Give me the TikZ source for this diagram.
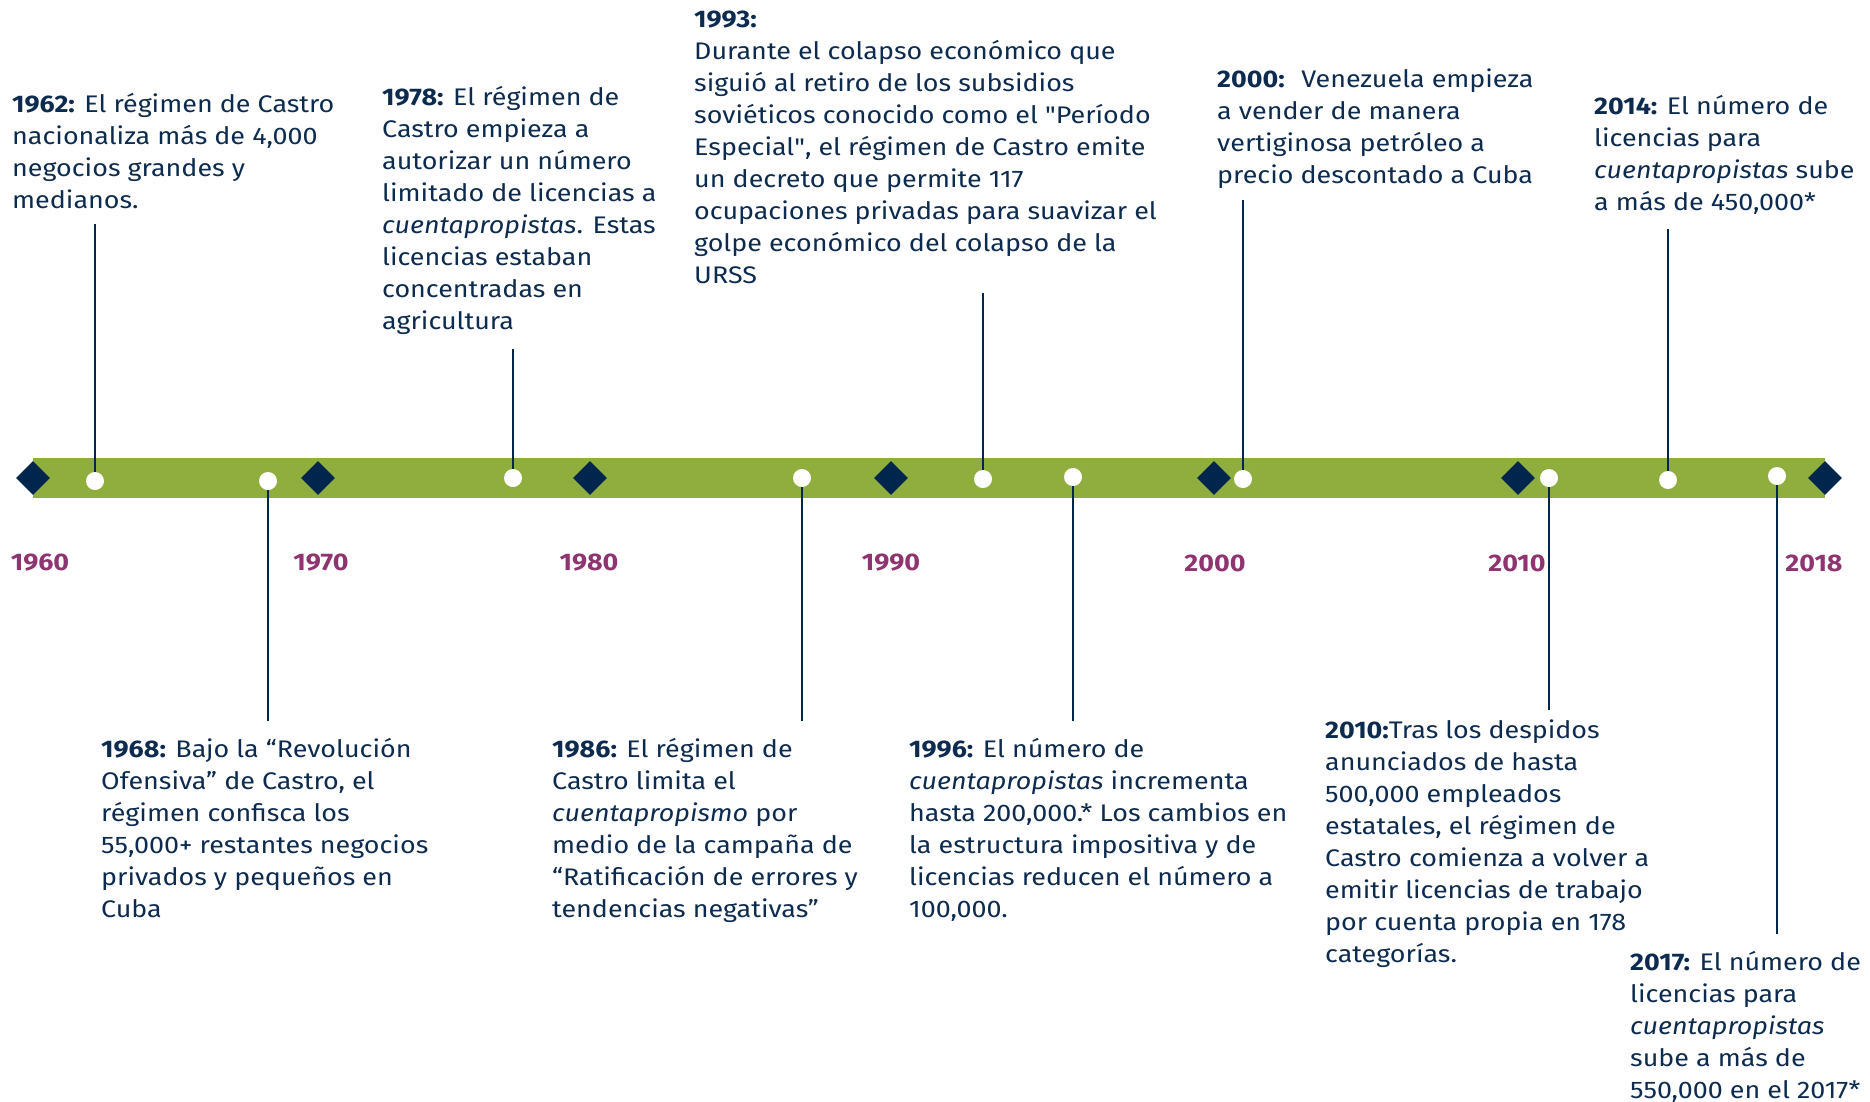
\documentclass[tikz,border=0pt]{standalone}
\usepackage{fontspec}
\usetikzlibrary{shapes.geometric}
\setmainfont[FakeStretch=1.12]{Fira Sans}
\newfontfamily\dqfont[FakeStretch=1.12]{Fira Sans}
\definecolor{barGreen}{RGB}{143,174,62}
\definecolor{navy}{RGB}{0,38,77}
\definecolor{txtNavy}{RGB}{13,43,78}
\definecolor{yearPurple}{RGB}{142,52,112}
\newcommand{\dq}{{\dqfont\symbol{34}}}
\begin{document}
\begin{tikzpicture}[x=1pt,y=-1pt,
  evtext/.style={anchor=north west,inner sep=0pt,align=left,text=txtNavy,
    font=\fontsize{24}{32}\selectfont},
  yearlbl/.style={text=yearPurple,font=\fontsize{24}{28}\selectfont\bfseries,inner sep=0pt},
  decade/.style={diamond,fill=navy,minimum width=34pt,minimum height=34pt,inner sep=0pt},
  evdot/.style={circle,fill=white,minimum size=18pt,inner sep=0pt},
  stem/.style={draw=navy,line width=1.4pt}]
\useasboundingbox (0,0) rectangle (1870,1101);
\fill[barGreen] (33,458) rectangle (1825,498);
% decade diamonds
\node[decade] (d60) at (33,478) {};
\node[decade] (d70) at (318,478) {};
\node[decade] (d80) at (590,478) {};
\node[decade] (d90) at (891,478) {};
\node[decade] (d00) at (1214,478) {};
\node[decade] (d10) at (1518,478) {};
\node[decade] (d18) at (1825,478) {};
% year labels
\node[yearlbl] (y60) at (40,563) {1960};
\node[yearlbl] (y70) at (321,563) {1970};
\node[yearlbl] (y80) at (589,563) {1980};
\node[yearlbl] (y90) at (891,563) {1990};
\node[yearlbl] (y00) at (1215,563) {2000};
\node[yearlbl] (y10) at (1517,563) {2010};
\node[yearlbl] (y18) at (1814,563) {2018};
% event dots
\node[evdot] (e62) at (95,481) {};
\node[evdot] (e68) at (268,481) {};
\node[evdot] (e78) at (513,478) {};
\node[evdot] (e86) at (802,478) {};
\node[evdot] (e93) at (983,479) {};
\node[evdot] (e96) at (1073,477) {};
\node[evdot] (e00) at (1243,479) {};
\node[evdot] (e10) at (1549,478) {};
\node[evdot] (e14) at (1668,480) {};
\node[evdot] (e17) at (1777,476) {};
% stem ends
\coordinate (t62) at (95,224);
\coordinate (t68) at (268,721);
\coordinate (t78) at (513,349);
\coordinate (t86) at (802,721);
\coordinate (t93) at (983,293);
\coordinate (t96) at (1073,721);
\coordinate (t00) at (1243,200);
\coordinate (t10) at (1549,710);
\coordinate (t14) at (1668,229);
\coordinate (t17) at (1777,934);
\draw[stem] (t62) -- (e62.north);
\draw[stem] (t78) -- (e78.north);
\draw[stem] (t93) -- (e93.north);
\draw[stem] (t00) -- (e00.north);
\draw[stem] (t14) -- (e14.north);
\draw[stem] (e68.south) -- (t68);
\draw[stem] (e86.south) -- (t86);
\draw[stem] (e96.south) -- (t96);
\draw[stem] (e10.south) -- (t10);
\draw[stem] (e17.south) -- (t17);
% texts (top = first baseline - 22.4)
\node[evtext] (x62) at (12,89.6) {\strut\textbf{1962:} El régimen de Castro\\nacionaliza más de 4,000\\negocios grandes y\\medianos.};
\node[evtext] (x78) at (382,82.6) {\strut\textbf{1978:} El régimen de\\Castro empieza a\\autorizar un número\\limitado de licencias a\\\textit{cuentapropistas}. Estas\\licencias estaban\\concentradas en\\agricultura};
\node[evtext] (x93) at (694,4.6) {\strut\textbf{1993:}\\Durante el colapso económico que\\siguió al retiro de los subsidios\\soviéticos conocido como el \dq Período\\Especial\dq, el régimen de Castro emite\\un decreto que permite 117\\ocupaciones privadas para suavizar el\\golpe económico del colapso de la\\URSS};
\node[evtext] (x00) at (1217,64.6) {\strut\textbf{2000:}~ Venezuela empieza\\a vender de manera\\vertiginosa petróleo a\\precio descontado a Cuba};
\node[evtext] (x14) at (1594,91.6) {\strut\textbf{2014:} El número de\\licencias para\\\textit{cuentapropistas} sube\\a más de 450,000*};
\node[evtext] (x68) at (101,734.6) {\strut\textbf{1968:} Bajo la “Revolución\\Ofensiva” de Castro, el\\régimen confisca los\\55,000+ restantes negocios\\privados y pequeños en\\Cuba};
\node[evtext] (x86) at (552,734.6) {\strut\textbf{1986:} El régimen de\\Castro limita el\\\textit{cuentapropismo} por\\medio de la campaña de\\“Ratificación de errores y\\tendencias negativas”};
\node[evtext] (x96) at (909,734.6) {\strut\textbf{1996:} El número de\\\textit{cuentapropistas} incrementa\\hasta 200,000.* Los cambios en\\la estructura impositiva y de\\licencias reducen el número a\\100,000.};
\node[evtext] (x10) at (1325,715.6) {\strut\textbf{2010:}Tras los despidos\\anunciados de hasta\\500,000 empleados\\estatales, el régimen de\\Castro comienza a volver a\\emitir licencias de trabajo\\por cuenta propia en 178\\categorías.};
\node[evtext] (x17) at (1630,947.6) {\strut\textbf{2017:} El número de\\licencias para\\\textit{cuentapropistas}\\sube a más de\\550,000 en el 2017*};
\end{tikzpicture}
\end{document}
